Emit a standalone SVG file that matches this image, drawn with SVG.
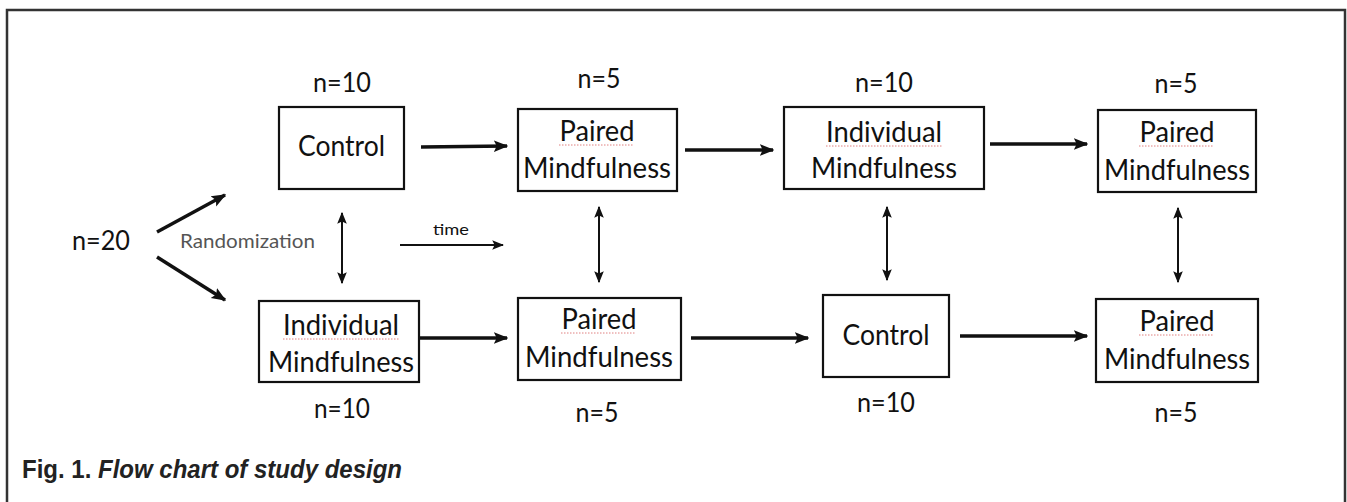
<svg xmlns="http://www.w3.org/2000/svg" width="1347" height="502" viewBox="0 0 1347 502">
<style>
.box{fill:#fff;stroke:#111;stroke-width:2.2}
.t{font-family:Lato,"Open Sans","Liberation Sans",sans-serif;font-size:29px;fill:#111;text-anchor:middle}
.n{font-family:Lato,"Open Sans","Liberation Sans",sans-serif;font-size:27px;fill:#111;text-anchor:middle}
.thick{stroke:#111;stroke-width:3.5;fill:none}
.thin{stroke:#111;stroke-width:2;fill:none}
.sq{stroke:#e08080;stroke-width:1;stroke-dasharray:1.5 1.5;fill:none}
</style>
<defs>
<marker id="ah" viewBox="0 0 10 10" refX="9" refY="5" markerWidth="4.2" markerHeight="4.2" orient="auto" markerUnits="strokeWidth">
<path d="M0,1 L10,5 L0,9 L2,5 z" fill="#111"/>
</marker>
<marker id="ahs" viewBox="0 0 10 10" refX="9" refY="5" markerWidth="6" markerHeight="6" orient="auto-start-reverse" markerUnits="strokeWidth">
<path d="M0,1 L10,5 L0,9 L2,5 z" fill="#111"/>
</marker>
</defs>
<rect x="0" y="0" width="1347" height="502" fill="#fff"/>
<rect id="frame" x="7" y="10" width="1338" height="500" fill="none" stroke="#333" stroke-width="2.5"/>

<g id="n20"><text class="n" x="101" y="250" textLength="58" lengthAdjust="spacingAndGlyphs">n=20</text></g>
<g id="randomization"><text x="180" y="248" font-family="Lato,'Open Sans','Liberation Sans',sans-serif" font-size="20" fill="#555" textLength="135" lengthAdjust="spacingAndGlyphs">Randomization</text></g>
<g id="time"><text x="451" y="235" font-family="Lato,'Open Sans','Liberation Sans',sans-serif" font-size="16" fill="#111" text-anchor="middle" textLength="36" lengthAdjust="spacingAndGlyphs">time</text></g>

<g id="control-top">
<text class="n" x="342" y="92" textLength="58" lengthAdjust="spacingAndGlyphs">n=10</text>
<rect class="box" x="279" y="107" width="125" height="82"/>
<text class="t" x="341.5" y="156" textLength="87" lengthAdjust="spacingAndGlyphs">Control</text>
</g>

<g id="individual-bottom">
<rect class="box" x="259" y="301" width="160" height="81"/>
<text class="t" x="341" y="335" textLength="116" lengthAdjust="spacingAndGlyphs">Individual</text>
<path class="sq" d="M283,339 h116"/>
<text class="t" x="341" y="372" textLength="146" lengthAdjust="spacingAndGlyphs">Mindfulness</text>
<text class="n" x="342" y="418" textLength="56" lengthAdjust="spacingAndGlyphs">n=10</text>
</g>

<g id="paired-top-1">
<text class="n" x="599" y="88" textLength="43" lengthAdjust="spacingAndGlyphs">n=5</text>
<rect class="box" x="518" y="109" width="159" height="82"/>
<text class="t" x="597" y="141" textLength="75" lengthAdjust="spacingAndGlyphs">Paired</text>
<path class="sq" d="M559,145 h75"/>
<text class="t" x="597" y="178" textLength="148" lengthAdjust="spacingAndGlyphs">Mindfulness</text>
</g>

<g id="paired-bottom-1">
<rect class="box" x="518" y="298" width="163" height="82"/>
<text class="t" x="599" y="329" textLength="75" lengthAdjust="spacingAndGlyphs">Paired</text>
<path class="sq" d="M561,333 h75"/>
<text class="t" x="599" y="367" textLength="148" lengthAdjust="spacingAndGlyphs">Mindfulness</text>
<text class="n" x="597" y="422" textLength="43" lengthAdjust="spacingAndGlyphs">n=5</text>
</g>

<g id="individual-top">
<text class="n" x="884" y="92" textLength="58" lengthAdjust="spacingAndGlyphs">n=10</text>
<rect class="box" x="784" y="107" width="200" height="82"/>
<text class="t" x="884" y="142" textLength="116" lengthAdjust="spacingAndGlyphs">Individual</text>
<path class="sq" d="M826,146 h116"/>
<text class="t" x="884" y="178" textLength="146" lengthAdjust="spacingAndGlyphs">Mindfulness</text>
</g>

<g id="control-bottom">
<rect class="box" x="823" y="295" width="126" height="82"/>
<text class="t" x="886" y="345" textLength="87" lengthAdjust="spacingAndGlyphs">Control</text>
<text class="n" x="886" y="412" textLength="58" lengthAdjust="spacingAndGlyphs">n=10</text>
</g>

<g id="paired-top-2">
<text class="n" x="1176" y="93" textLength="43" lengthAdjust="spacingAndGlyphs">n=5</text>
<rect class="box" x="1098" y="110" width="158" height="82"/>
<text class="t" x="1177" y="142" textLength="75" lengthAdjust="spacingAndGlyphs">Paired</text>
<path class="sq" d="M1139,146 h75"/>
<text class="t" x="1177" y="180" textLength="146" lengthAdjust="spacingAndGlyphs">Mindfulness</text>
</g>

<g id="paired-bottom-2">
<rect class="box" x="1096" y="299" width="162" height="83"/>
<text class="t" x="1177" y="331" textLength="75" lengthAdjust="spacingAndGlyphs">Paired</text>
<path class="sq" d="M1139,335 h75"/>
<text class="t" x="1177" y="369" textLength="146" lengthAdjust="spacingAndGlyphs">Mindfulness</text>
<text class="n" x="1176" y="422" textLength="43" lengthAdjust="spacingAndGlyphs">n=5</text>
</g>

<g id="connectors">
<line class="thick" x1="157" y1="232" x2="225" y2="195" marker-end="url(#ah)"/>
<line class="thick" x1="157" y1="257" x2="225" y2="300" marker-end="url(#ah)"/>
<line class="thick" x1="421" y1="147" x2="507" y2="146" marker-end="url(#ah)"/>
<line class="thick" x1="685" y1="150" x2="773" y2="150" marker-end="url(#ah)"/>
<line class="thick" x1="990" y1="144" x2="1087" y2="144" marker-end="url(#ah)"/>
<line class="thick" x1="420" y1="338" x2="507" y2="338" marker-end="url(#ah)"/>
<line class="thick" x1="691" y1="338" x2="808" y2="338" marker-end="url(#ah)"/>
<line class="thick" x1="960" y1="336" x2="1087" y2="336" marker-end="url(#ah)"/>
<line class="thin" x1="400" y1="245" x2="503" y2="245" marker-end="url(#ahs)"/>
<line class="thin" x1="342" y1="213" x2="342" y2="283" marker-start="url(#ahs)" marker-end="url(#ahs)"/>
<line class="thin" x1="599" y1="207" x2="599" y2="282" marker-start="url(#ahs)" marker-end="url(#ahs)"/>
<line class="thin" x1="887" y1="207" x2="887" y2="280" marker-start="url(#ahs)" marker-end="url(#ahs)"/>
<line class="thin" x1="1178" y1="208" x2="1178" y2="282" marker-start="url(#ahs)" marker-end="url(#ahs)"/>
</g>

<g id="caption">
<text x="22" y="478" font-family="'Liberation Sans',Arial,sans-serif" font-size="25" font-weight="bold" fill="#222" textLength="380" lengthAdjust="spacingAndGlyphs">Fig. 1. <tspan font-style="italic">Flow chart of study design</tspan></text>
</g>
</svg>
